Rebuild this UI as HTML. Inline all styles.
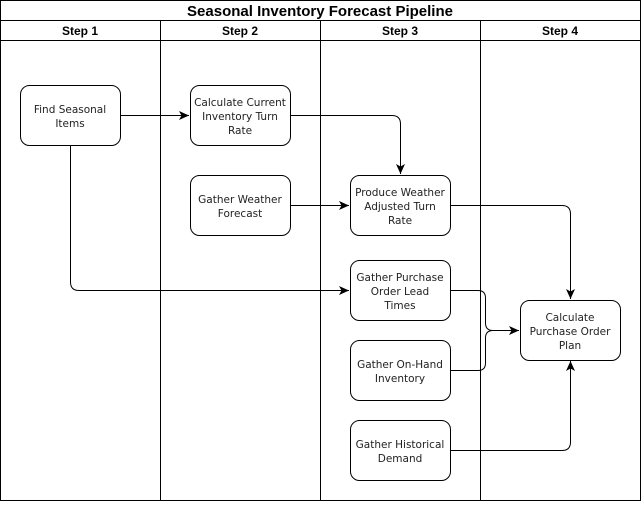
<!DOCTYPE html>
<html><head><style>body{margin:0;background:#fff}</style></head><body>
<svg width="641" height="502" xmlns="http://www.w3.org/2000/svg" font-family="Liberation Sans, DejaVu Sans, sans-serif">
<defs><marker id="a" markerWidth="12" markerHeight="12" refX="10" refY="6" orient="auto" markerUnits="userSpaceOnUse"><path d="M0,1.5 L10,6 L0,10.5 L2.5,6 z" fill="#000"/></marker></defs>
<rect x="0.5" y="0.5" width="640" height="500" fill="#fff" stroke="#000"/>
<line x1="0" y1="20.5" x2="641" y2="20.5" stroke="#000"/>
<line x1="0" y1="40.5" x2="641" y2="40.5" stroke="#000"/>
<line x1="160.5" y1="20" x2="160.5" y2="501" stroke="#000"/>
<line x1="320.5" y1="20" x2="320.5" y2="501" stroke="#000"/>
<line x1="480.5" y1="20" x2="480.5" y2="501" stroke="#000"/>
<text x="320" y="16" text-anchor="middle" font-size="15" font-weight="bold">Seasonal Inventory Forecast Pipeline</text>
<g font-size="12" font-weight="bold" text-anchor="middle">
<text x="80" y="35">Step 1</text><text x="240" y="35">Step 2</text><text x="400" y="35">Step 3</text><text x="560" y="35">Step 4</text></g>
<g fill="none" stroke="#000">
<path d="M120.5,115.5 H189" marker-end="url(#a)"/>
<path d="M290.5,115.5 H392 Q400.5,115.5 400.5,124 V174" marker-end="url(#a)"/>
<path d="M290.5,205.5 H349" marker-end="url(#a)"/>
<path d="M450.5,205.5 H562 Q570.5,205.5 570.5,214 V299" marker-end="url(#a)"/>
<path d="M70.5,145.5 V282 Q70.5,290.5 79,290.5 H349" marker-end="url(#a)"/>
<path d="M450.5,290.5 H478 Q485.5,290.5 485.5,298 V323 Q485.5,330.5 493,330.5 H519" marker-end="url(#a)"/>
<path d="M450.5,370.5 H478 Q485.5,370.5 485.5,363 V338 Q485.5,330.5 493,330.5"/>
<path d="M450.5,450.5 H562 Q570.5,450.5 570.5,442 V361" marker-end="url(#a)"/>
</g>
<g fill="#fff" stroke="#000">
<rect x="20.5" y="85.5" width="100" height="60" rx="9"/>
<rect x="190.5" y="85.5" width="100" height="60" rx="9"/>
<rect x="190.5" y="175.5" width="100" height="60" rx="9"/>
<rect x="350.5" y="175.5" width="100" height="60" rx="9"/>
<rect x="350.5" y="260.5" width="100" height="60" rx="9"/>
<rect x="350.5" y="340.5" width="100" height="60" rx="9"/>
<rect x="350.5" y="420.5" width="100" height="60" rx="9"/>
<rect x="520.5" y="300.5" width="100" height="60" rx="9"/>
</g>
<g font-size="10.5" text-anchor="middle" fill="#222" font-family="DejaVu Sans, sans-serif">
<text x="70" y="113">Find Seasonal</text><text x="70" y="127">Items</text>
<text x="240" y="106">Calculate Current</text><text x="240" y="120">Inventory Turn</text><text x="240" y="134">Rate</text>
<text x="240" y="203">Gather Weather</text><text x="240" y="217">Forecast</text>
<text x="400" y="196">Produce Weather</text><text x="400" y="210">Adjusted Turn</text><text x="400" y="224">Rate</text>
<text x="400" y="281">Gather Purchase</text><text x="400" y="295">Order Lead</text><text x="400" y="309">Times</text>
<text x="400" y="368">Gather On-Hand</text><text x="400" y="382">Inventory</text>
<text x="400" y="448">Gather Historical</text><text x="400" y="462">Demand</text>
<text x="570" y="321">Calculate</text><text x="570" y="335">Purchase Order</text><text x="570" y="349">Plan</text>
</g>
</svg>
</body></html>
